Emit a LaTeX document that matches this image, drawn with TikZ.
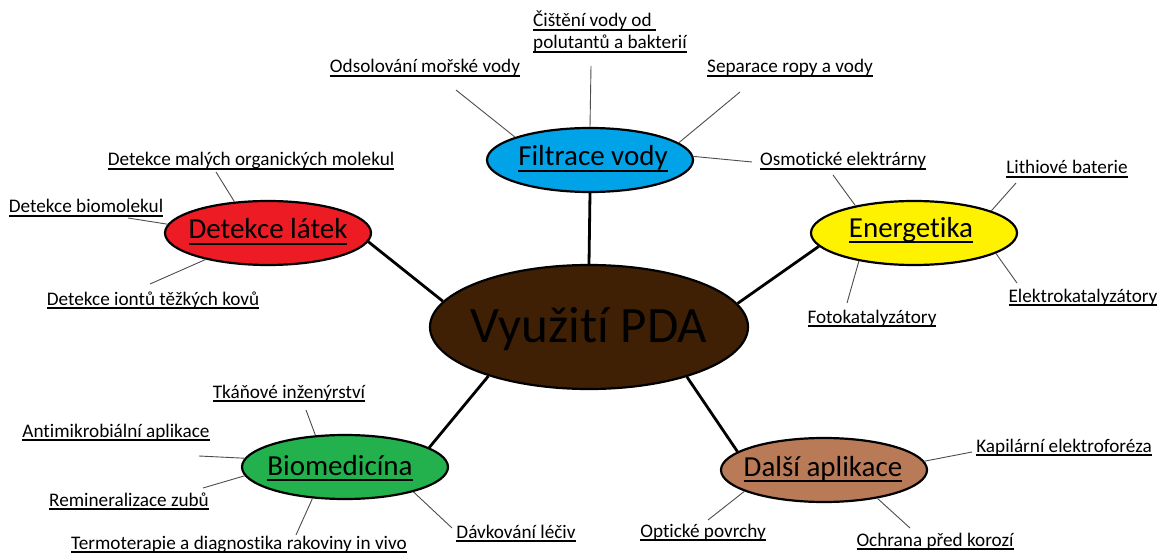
\documentclass[tikz,border=0pt]{standalone}
\usepackage{fontspec}
\setmainfont{Carlito}[Ligatures={NoCommon}]
\usetikzlibrary{shapes.geometric}
\definecolor{cmain}{RGB}{64,32,4}
\definecolor{cfilt}{RGB}{0,162,232}
\definecolor{cdet}{RGB}{237,28,36}
\definecolor{cene}{RGB}{255,242,0}
\definecolor{cbio}{RGB}{34,177,76}
\definecolor{cdal}{RGB}{185,122,87}
\newcommand\myul[1]{\setbox0\hbox{#1}\rlap{\rule[-0.2em]{\wd0}{0.075em}}\box0}
\begin{document}
\begin{tikzpicture}[x=1pt,y=-1pt,
  bub/.style={ellipse,draw=black,line width=2.2pt,minimum width=206pt,minimum height=64pt,inner sep=0pt},
  btext/.style={font=\fontsize{29}{32}\selectfont,anchor=base,inner sep=0pt},
  lab/.style={font=\fontsize{19.2}{22}\selectfont,anchor=base,inner sep=0pt},
  twig/.style={draw=black!70,line width=0.9pt},
  conn/.style={draw=black,line width=2.8pt}]
\useasboundingbox (0,0) rectangle (1159,556);
% bubbles
\node[bub,fill=cmain,minimum width=318pt,minimum height=124pt] (main) at (589,327) {};
\node[anchor=base,inner sep=0pt,font=\fontsize{51}{56}\selectfont] (maint) at (589,342) {Využití PDA};
\node[bub,fill=cfilt] (filt) at (590,160) {};
\node[btext] (filtt) at (593,166) {\myul{Filtrace vody}};
\node[bub,fill=cdet] (det) at (268,233) {};
\node[btext] (dett) at (268,239) {\myul{Detekce látek}};
\node[bub,fill=cene] (ene) at (914,233) {};
\node[btext] (enet) at (911,237) {\myul{Energetika}};
\node[bub,fill=cbio] (bio) at (345,467) {};
\node[btext] (biot) at (340,475) {\myul{Biomedicína}};
\node[bub,fill=cdal] (dal) at (824,470) {};
\node[btext] (dalt) at (823,476) {\myul{Další aplikace}};
% main connectors
\draw[conn] (filt.south) -- (main.north);
\draw[conn] (det.-5) -- (main.170.3);
\draw[conn] (ene.188.3) -- (main.9);
\draw[conn] (bio.13.9) -- (main.206.6);
\draw[conn] (dal.168.3) -- (main.-27);
% labels
\node[lab,anchor=base west] (cis1) at (533,27) {\myul{Čištění vody od\ }};
\node[lab,anchor=base west] (cis2) at (533,49) {\myul{polutantů a bakterií}};
\node[lab] (odsol) at (425,73) {\myul{Odsolování mořské vody}};
\node[lab] (separ) at (790,73) {\myul{Separace ropy a vody}};
\node[lab] (osm) at (843,166) {\myul{Osmotické elektrárny}};
\node[lab] (mal) at (251,166) {\myul{Detekce malých organických molekul}};
\node[lab] (biom) at (86,213) {\myul{Detekce biomolekul}};
\node[lab] (iont) at (153,305) {\myul{Detekce iontů těžkých kovů}};
\node[lab] (lith) at (1067,174) {\myul{Lithiové baterie}};
\node[lab] (elek) at (1083,302) {\myul{Elektrokatalyzátory}};
\node[lab] (foto) at (872,323) {\myul{Fotokatalyzátory}};
\node[lab] (tkan) at (289,398) {\myul{Tkáňové inženýrství}};
\node[lab] (anti) at (116,437) {\myul{Antimikrobiální aplikace}};
\node[lab] (remin) at (129,506) {\myul{Remineralizace zubů}};
\node[lab] (termo) at (239,549) {\myul{Termoterapie a diagnostika rakoviny in vivo}};
\node[lab] (davk) at (516,538) {\myul{Dávkování léčiv}};
\node[lab] (kap) at (1064,452) {\myul{Kapilární elektroforéza}};
\node[lab] (opt) at (703,537) {\myul{Optické povrchy}};
\node[lab] (ochr) at (935,546) {\myul{Ochrana před korozí}};
% free ends of thin connectors
\coordinate (e1) at (591,66);
\coordinate (e2) at (456,90);
\coordinate (e3) at (740,92);
\coordinate (e4) at (752,162);
\coordinate (e5) at (216,172);
\coordinate (e6) at (128,218);
\coordinate (e7) at (150,284);
\coordinate (e8) at (833,175);
\coordinate (e9) at (1016,183);
\coordinate (e10) at (1017,283);
\coordinate (e11) at (847,303);
\coordinate (e12) at (306,410);
\coordinate (e13) at (199,456);
\coordinate (e14) at (203,488);
\coordinate (e15) at (296,535);
\coordinate (e16) at (452,528);
\coordinate (e17) at (972,452);
\coordinate (e18) at (708,520);
\coordinate (e19) at (910,528);
% thin connectors
\draw[twig] (filt.north) -- (e1);
\draw[twig] (filt.163.9) -- (e2);
\draw[twig] (filt.11.6) -- (e3);
\draw[twig] (filt.2.7) -- (e4);
\draw[twig] (det.137.5) -- (e5);
\draw[twig] (det.175.6) -- (e6);
\draw[twig] (det.203.2) -- (e7);
\draw[twig] (ene.155.7) -- (e8);
\draw[twig] (ene.16.2) -- (e9);
\draw[twig] (ene.-14.2) -- (e10);
\draw[twig] (ene.207.4) -- (e11);
\draw[twig] (bio.133) -- (e12);
\draw[twig] (bio.175.6) -- (e13);
\draw[twig] (bio.185.5) -- (e14);
\draw[twig] (bio.224) -- (e15);
\draw[twig] (bio.-20.4) -- (e16);
\draw[twig] (dal.5.8) -- (e17);
\draw[twig] (dal.195.9) -- (e18);
\draw[twig] (dal.-28.2) -- (e19);
\end{tikzpicture}
\end{document}
